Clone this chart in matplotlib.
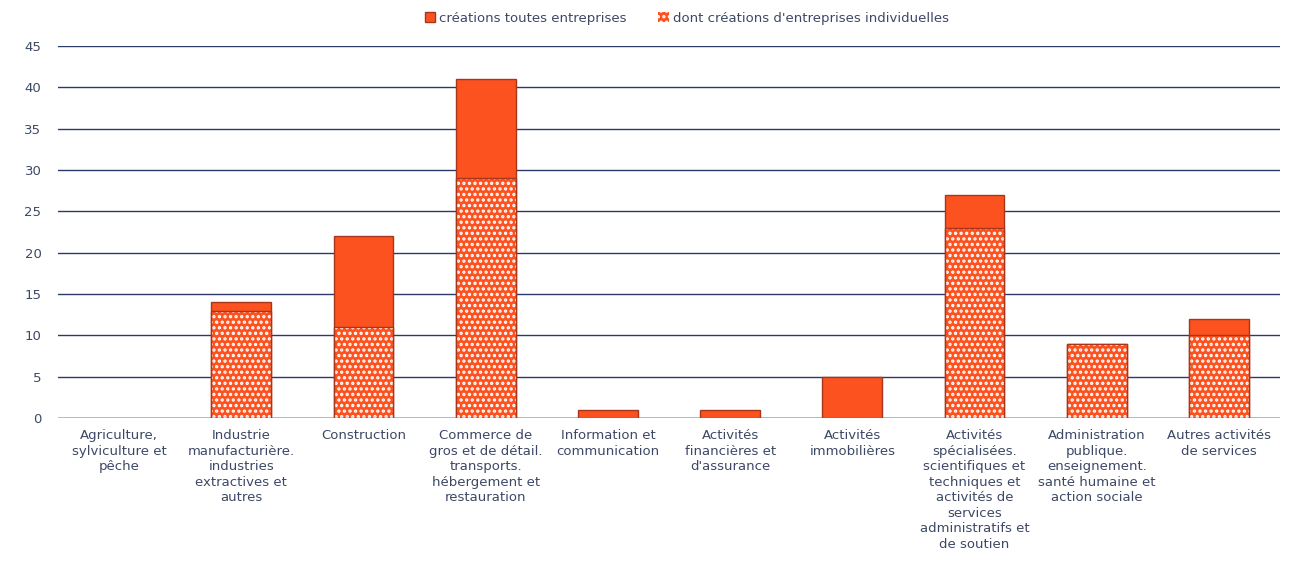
import matplotlib.pyplot as plt
from matplotlib.patches import Patch

categories = [
    "Agriculture,\nsylviculture et\npêche",
    "Industrie\nmanufacturière.\nindustries\nextractives et\nautres",
    "Construction",
    "Commerce de\ngros et de détail.\ntransports.\nhébergement et\nrestauration",
    "Information et\ncommunication",
    "Activités\nfinancières et\nd'assurance",
    "Activités\nimmobilières",
    "Activités\nspécialisées.\nscientifiques et\ntechniques et\nactivités de\nservices\nadministratifs et\nde soutien",
    "Administration\npublique.\nenseignement.\nsanté humaine et\naction sociale",
    "Autres activités\nde services",
]
total = [0, 14, 22, 41, 1, 1, 5, 27, 9, 12]
individuelles = [0, 13, 11, 29, 0, 0, 0, 23, 9, 10]

orange = "#fc5220"
edge = "#a8361a"
grid_col = "#2b3a66"
text_col = "#3d4866"

plt.rcParams["hatch.linewidth"] = 1.6
fig = plt.figure(figsize=(12.96, 5.61), dpi=100)
ax = fig.add_axes([0.0448, 0.2549, 0.9429, 0.6631])

x = list(range(len(categories)))
w = 0.49
# no outline for empty bars
lw_tot = [1 if v > 0 else 0 for v in total]
lw_ind = [1 if v > 0 else 0 for v in individuelles]

# total creations (solid)
ax.bar(x, total, width=w, color=orange, edgecolor=edge, linewidth=lw_tot, zorder=3)
# individual creations (dotted pattern drawn over)
ax.bar(x, individuelles, width=w, color=orange, edgecolor="white", hatch="...",
       linewidth=0, zorder=4)
ax.bar(x, individuelles, width=w, fill=False, edgecolor=edge, linewidth=lw_ind, zorder=5)

ax.set_xlim(-0.5, len(categories) - 0.5)
ax.set_ylim(0, 45)
ax.set_yticks(range(0, 46, 5))
ax.grid(axis="y", color=grid_col, linewidth=1, zorder=0)
ax.axhline(0, color="#c9d3e6", linewidth=1.2, zorder=1)
for s in ax.spines.values():
    s.set_visible(False)
ax.tick_params(axis="both", length=0, colors=text_col, labelsize=9.5)
ax.tick_params(axis="y", pad=12)
ax.tick_params(axis="x", pad=8)
ax.set_xticks(x)
ax.set_xticklabels(categories, linespacing=1.25, va="top")

handles = [
    Patch(facecolor=orange, edgecolor=edge, linewidth=1, label="créations toutes entreprises"),
    Patch(facecolor=orange, edgecolor="white", hatch="...", linewidth=0,
          label="dont créations d'entreprises individuelles"),
]
leg = fig.legend(handles=handles, loc="upper center", bbox_to_anchor=(0.53, 1.0),
                 ncol=2, frameon=False, fontsize=9.5, handlelength=0.8,
                 handleheight=0.8, handletextpad=0.3, columnspacing=2.4)
for t in leg.get_texts():
    t.set_color(text_col)

fig.savefig("out.png", dpi=100)
